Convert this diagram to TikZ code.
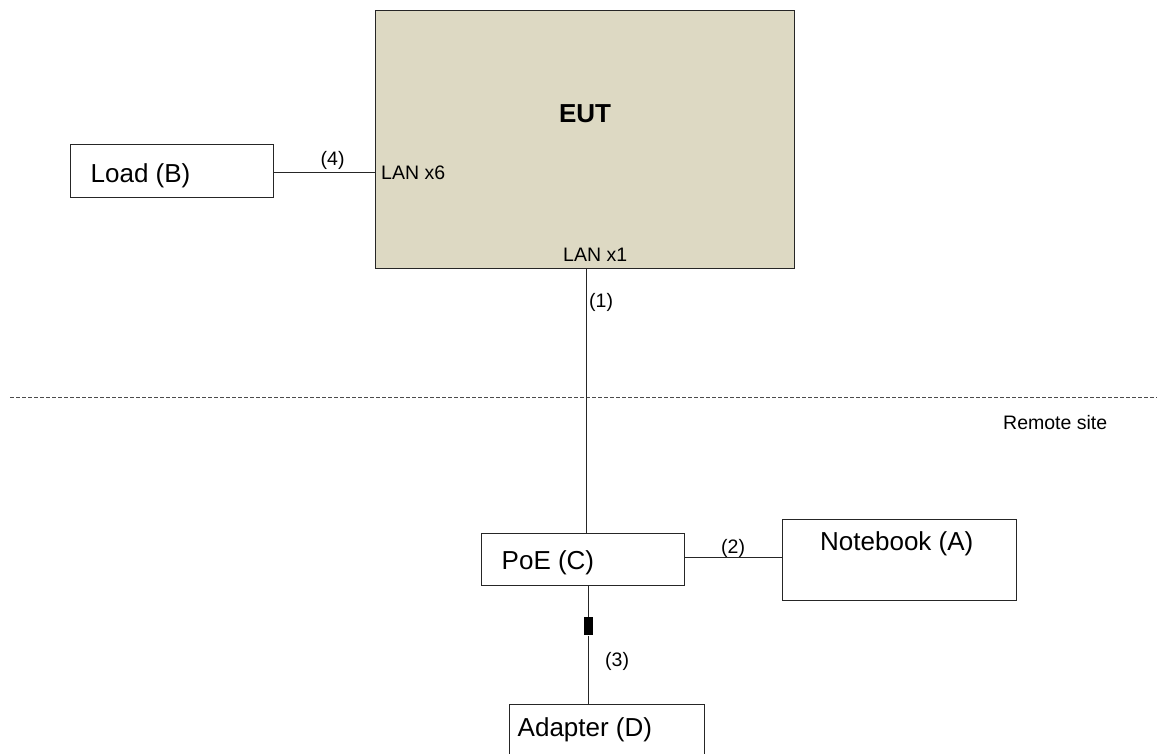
\documentclass[tikz,border=0pt]{standalone}
\usepackage{fontspec}
\setmainfont{Liberation Sans}
\begin{document}
\begin{tikzpicture}[x=1pt,y=-1pt,
  box/.style={draw=black!85, line width=1.4pt, fill=white, inner sep=0pt, anchor=north west},
  eutbox/.style={draw=black!85, line width=1.4pt, fill=tanfill, inner sep=0pt, anchor=north west},
  big/.style={font=\fontsize{26}{30}\selectfont, inner sep=0pt, anchor=base west},
  small/.style={font=\fontsize{19.5}{23}\selectfont, inner sep=0pt, anchor=base west},
  wire/.style={draw=black!85, line width=1.1pt},
  sep/.style={draw=black!70, line width=1pt, dash pattern=on 4pt off 2pt}]
\definecolor{tanfill}{HTML}{DDD9C3}
\clip (0,0) rectangle (1157,753);
\fill[white] (0,0) rectangle (1157,753);
% boxes
\node[eutbox, minimum width=419pt, minimum height=258pt] (eut) at (375,10) {};
\node[box, minimum width=203pt, minimum height=53pt] (load) at (70,144) {};
\node[box, minimum width=203pt, minimum height=52pt] (poe) at (481,532.5) {};
\node[box, minimum width=234pt, minimum height=81pt] (nb) at (781.5,519) {};
\node[box, minimum width=195pt, minimum height=80pt] (adapter) at (509,703.8) {};
% texts
\node[big, font=\fontsize{26}{30}\selectfont\bfseries, anchor=base] (euttxt) at (585,122.5) {EUT};
\node[small] (lan6) at (381,179) {LAN x6};
\node[small] (lan1) at (563,261) {LAN x1};
\node[big] (loadtxt) at (90.5,182.3) {Load (B)};
\node[big] (poetxt) at (501.5,569.3) {PoE (C)};
\node[big] (nbtxt) at (820,550.7) {Notebook (A)};
\node[big] (adtxt) at (517.5,736.7) {Adapter (D)};
\node[small] (r1) at (589,307) {(1)};
\node[small] (r2) at (721,553) {(2)};
\node[small] (r3) at (605,666) {(3)};
\node[small] (r4) at (320.5,165) {(4)};
\node[small] (remote) at (1003,429) {Remote site};
% separator
\coordinate (sepL) at (10,397);
\coordinate (sepR) at (1157,397);
\draw[sep] (sepL) -- (sepR);
% connectors
\coordinate (c1) at (586.5,0);
\draw[wire] (eut.south -| c1) -- (poe.north -| c1);
\draw[wire] (load.east |- 0,172.5) -- (eut.west |- 0,172.5);
\draw[wire] (poe.east |- 0,557.5) -- (nb.west |- 0,557.5);
\node[fill=black, draw=none, inner sep=0pt, minimum width=9pt, minimum height=18pt] (plug) at (588.5,626.3) {};
\draw[wire] (poe.south -| plug) -- (plug.north);
\draw[wire] (plug.south) -- (adapter.north -| plug);
\end{tikzpicture}
\end{document}
